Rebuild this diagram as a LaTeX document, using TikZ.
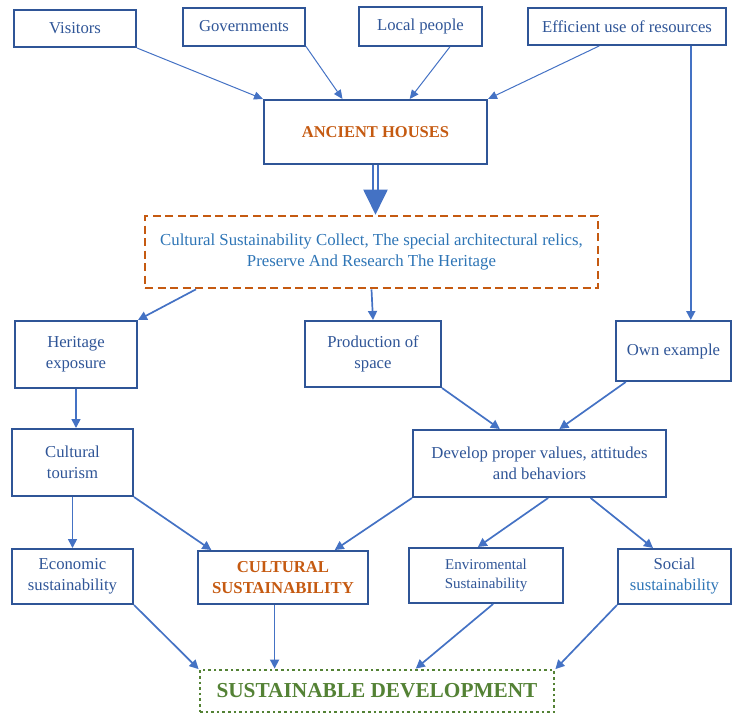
\documentclass[tikz,border=0pt]{standalone}
\usepackage{fontspec}
\setmainfont{Liberation Serif}
\usetikzlibrary{arrows.meta}
\definecolor{boxblue}{RGB}{47,85,151}
\definecolor{arrowblue}{RGB}{68,114,196}
\definecolor{lightblue}{RGB}{46,117,182}
\definecolor{rust}{RGB}{197,90,17}
\definecolor{leaf}{RGB}{84,130,53}
\tikzstyle{box} = [rectangle, draw=boxblue, line width=2pt, align=center, text=boxblue, font=\fontsize{16.7}{21}\selectfont, inner sep=2pt]
\tikzstyle{dashbox} = [rectangle, draw=rust, line width=2.6pt, dash pattern=on 8pt off 4.5pt, align=center, text=lightblue, font=\fontsize{16.8}{21}\selectfont]
\tikzstyle{dotbox} = [rectangle, draw=leaf, line width=2.8pt, dash pattern=on 2.6pt off 3pt, text=leaf, font=\fontsize{21.3}{25}\selectfont\bfseries]
\tikzstyle{arrow} = [draw=arrowblue, line width=1.7pt, -{Triangle[length=9pt,width=9pt]}]
\tikzstyle{thinarrow} = [draw=arrowblue, line width=1pt, -{Triangle[length=9pt,width=8pt]}]

\begin{document}
\begin{tikzpicture}[node distance=100pt]
\useasboundingbox (0,0) rectangle (732pt,-715pt);

% Top row
\node (vis) [box, minimum width=122pt, minimum height=37pt, xshift=75pt, yshift=-28.5pt] {Visitors};
\node (gov) [box, minimum width=122pt, minimum height=38pt, right of=vis, xshift=69pt, yshift=2pt] {Governments};
\node (loc) [box, minimum width=123pt, minimum height=39pt, right of=gov, xshift=76.5pt] {Local people};
\node (eff) [box, minimum width=198pt, minimum height=37pt, right of=loc, xshift=106.5pt] {Efficient use of resources};

% Centre
\node (anc) [box, minimum width=223pt, minimum height=64pt, below of=gov, xshift=131.5pt, yshift=-5.5pt, text=rust, font=\fontsize{16.5}{20}\selectfont\bfseries] {ANCIENT HOUSES};
\node (cul) [dashbox, minimum width=453pt, minimum height=72pt, below of=anc, xshift=-4pt, yshift=-20pt] {Cultural Sustainability Collect, The special architectural relics,\\Preserve And Research The Heritage};

% Third row
\node (her) [box, minimum width=122pt, minimum height=67pt, below of=cul, xshift=-295.5pt, yshift=-2.5pt] {Heritage\\exposure};
\node (pro) [box, minimum width=136pt, minimum height=66pt, below of=cul, xshift=1.5pt, yshift=-2pt] {Production of\\space};
\node (own) [box, minimum width=115pt, minimum height=60pt, below of=cul, xshift=302pt, yshift=1pt] {Own example};

% Fourth row
\node (tou) [box, minimum width=121pt, minimum height=67pt, below of=her, xshift=-3.5pt, yshift=-8pt] {Cultural\\tourism};
\node (dev) [box, minimum width=253pt, minimum height=67pt, below of=pro, xshift=166.5pt, yshift=-9.5pt] {Develop proper values, attitudes\\and behaviors};

% Sustainability row
\node (eco) [box, minimum width=121pt, minimum height=55pt, below of=tou, yshift=-14pt] {Economic\\sustainability};
\node (cs) [box, minimum width=170pt, minimum height=53pt, below of=tou, xshift=210.5pt, yshift=-15pt, text=rust, font=\fontsize{16.7}{21}\selectfont\bfseries] {CULTURAL\\SUSTAINABILITY};
\node (env) [box, minimum width=154pt, minimum height=55pt, below of=dev, xshift=-53.5pt, yshift=-12pt, font=\fontsize{15}{19}\selectfont] {Enviromental\\Sustainability};
\node (soc) [box, minimum width=113pt, minimum height=55pt, below of=dev, xshift=135pt, yshift=-13pt] {Social\\\textcolor{lightblue}{sustainability}};

% Goal
\node (sd) [dotbox, minimum width=354pt, minimum height=42pt, below of=cs, xshift=94pt, yshift=-13.5pt] {SUSTAINABLE DEVELOPMENT};

% Connecting arrows
\draw [thinarrow] (vis.south east) -- (anc.north west);
\draw [thinarrow] (gov.south east) -- (anc.135);
\draw [thinarrow] (loc.-35) -- (anc.44);
\draw [thinarrow] (eff.-145) -- (anc.north east);
\draw [arrow] (eff.-17.7) -- (eff.-17.7 |- own.north);

\draw [draw=arrowblue, line width=2pt, double=white, double distance=3pt, -{Triangle[length=25pt,width=24pt,fill=arrowblue]}] (anc.south) -- (anc.south |- cul.north);

\draw [arrow] (cul.-168.5) -- (her.north east);
\draw [arrow] (cul.south) -- (pro.north);
\draw [arrow] (her.south) -- (her.south |- tou.north);
\draw [arrow] (pro.south east) -- (dev.139);
\draw [arrow] (own.-147) -- (dev.60);

\draw [arrow] (tou.south) -- (eco.north);
\draw [arrow] (tou.south east) -- (cs.159);
\draw [arrow] (dev.south west) -- (cs.28);
\draw [arrow] (dev.-76) -- (env.106);
\draw [arrow] (dev.-34) -- (soc.127);

\draw [arrow] (eco.south east) -- (sd.173);
\draw [arrow] (cs.-107) -- (cs.-107 |- sd.north);
\draw [arrow] (env.-76) -- (sd.30);
\draw [arrow] (soc.south west) -- (sd.7.5);

\end{tikzpicture}
\end{document}
